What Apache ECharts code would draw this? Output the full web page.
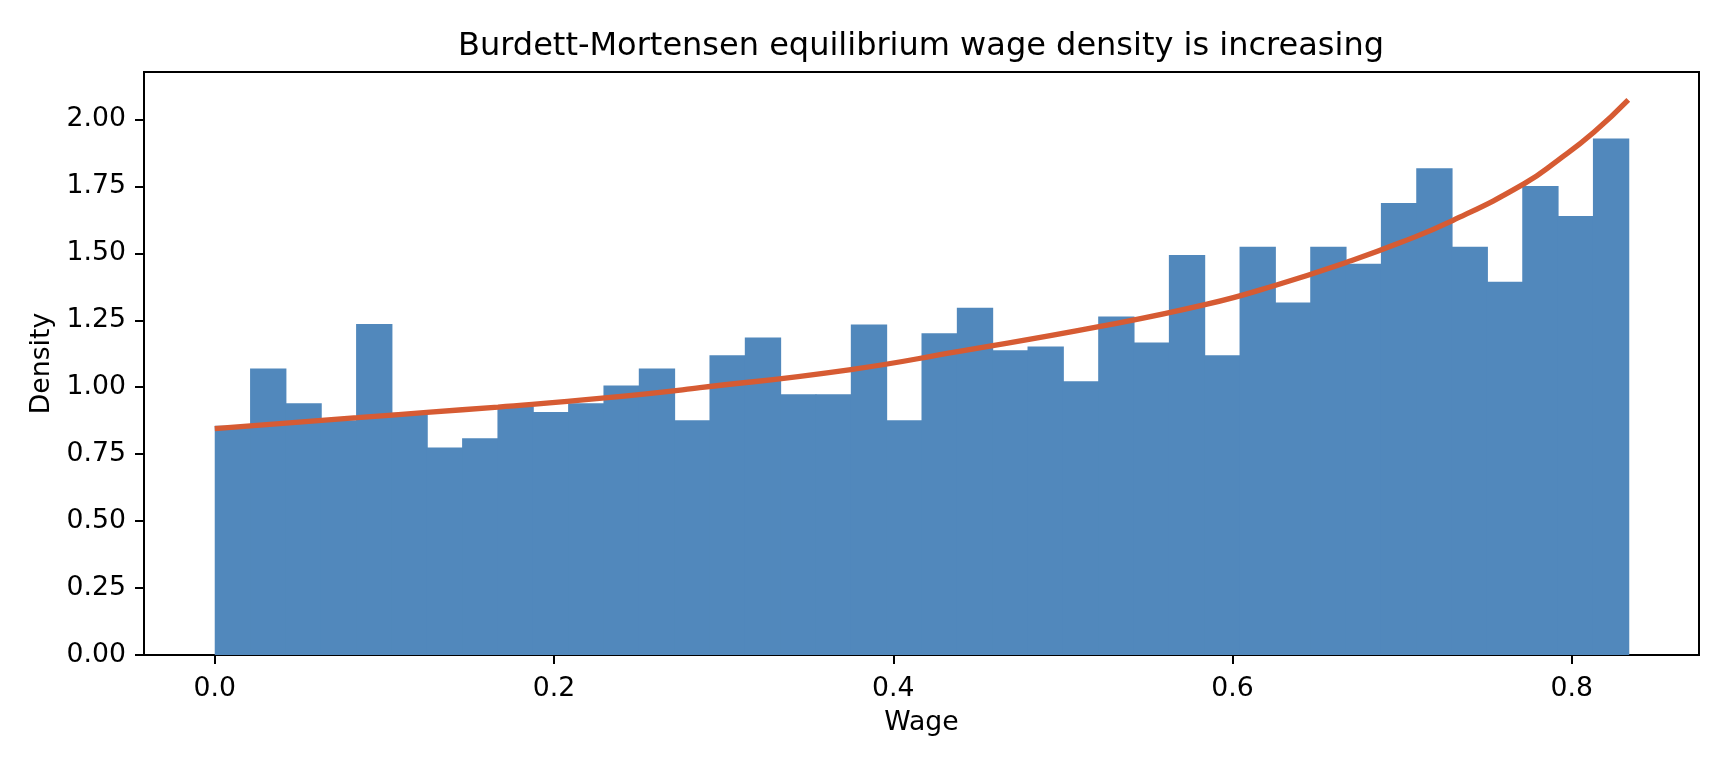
<!DOCTYPE html>
<html><head><meta charset="utf-8">
<script src="https://cdn.jsdelivr.net/npm/echarts@6/dist/echarts.min.js"></script>
<style>html,body{margin:0;padding:0;background:#fff}#c{width:1728px;height:768px}</style>
</head><body><div id="c"></div>
<script>
const titleText = 'Burdett-Mortensen equilibrium wage density is increasing';
const xLabel = 'Wage';
const yLabel = 'Density';
const wageMax = 0.8333;
const binCount = 40;
const histDensity = [0.856, 1.070, 0.940, 0.877, 1.236, 0.905, 0.775, 0.809, 0.928, 0.907,
  0.940, 1.006, 1.070, 0.877, 1.119, 1.186, 0.974, 0.974, 1.234, 0.877,
  1.201, 1.297, 1.138, 1.152, 1.022, 1.264, 1.167, 1.494, 1.119, 1.524,
  1.316, 1.524, 1.461, 1.688, 1.818, 1.524, 1.394, 1.751, 1.639, 1.929];
const curveWage = [0, 0.042, 0.084, 0.125, 0.167, 0.230, 0.286, 0.375, 0.438, 0.522, 0.585, 0.625, 0.667, 0.699, 0.730, 0.772, 0.792, 0.813, 0.8333];
const curveDensity = [0.845, 0.866, 0.886, 0.906, 0.926, 0.960, 0.998, 1.066, 1.133, 1.227, 1.310, 1.380, 1.466, 1.540, 1.623, 1.760, 1.848, 1.952, 2.073];
const xTicks = [0, 0.2, 0.4, 0.6, 0.8];
const yTicks = [0, 0.25, 0.5, 0.75, 1.0, 1.25, 1.5, 1.75, 2.0];

const binWidth = wageMax / binCount;
const histData = histDensity.map((d, i) => [i * binWidth, (i + 1) * binWidth, d]);
const curveData = curveWage.map((w, i) => [w, curveDensity[i]]);

const FONT = 'DejaVu Sans';
const chart = echarts.init(document.getElementById('c'), null, {renderer: 'canvas'});
chart.setOption({
  animation: false,
  backgroundColor: '#fff',
  grid: {left: 144, right: 29, top: 72, bottom: 113, show: true, borderColor: '#000', borderWidth: 2, backgroundColor: '#fff'},
  graphic: [{
    type: 'text', x: 921, y: 47, z: 10,
    style: {text: titleText, fill: '#000', font: '32px "' + FONT + '"', textAlign: 'center', textVerticalAlign: 'middle'}
  }],
  xAxis: {
    type: 'value', min: -0.0417, max: 0.875,
    name: xLabel, nameLocation: 'middle', nameGap: 55,
    nameTextStyle: {fontFamily: FONT, fontSize: 26.7, color: '#000'},
    splitLine: {show: false},
    axisLine: {show: true, onZero: false, lineStyle: {color: '#000', width: 2}},
    axisTick: {show: true, length: 9, lineStyle: {color: '#000', width: 2}, customValues: xTicks},
    axisLabel: {customValues: xTicks, margin: 21, fontFamily: FONT, fontSize: 26.7, color: '#000',
      formatter: v => v.toFixed(1)}
  },
  yAxis: {
    type: 'value', min: 0, max: 2.177,
    name: yLabel, nameLocation: 'middle', nameGap: 84,
    nameTextStyle: {fontFamily: FONT, fontSize: 26.7, color: '#000'},
    splitLine: {show: false},
    axisLine: {show: true, onZero: false, lineStyle: {color: '#000', width: 2}},
    axisTick: {show: true, length: 9, lineStyle: {color: '#000', width: 2}, customValues: yTicks},
    axisLabel: {customValues: yTicks, margin: 18, fontFamily: FONT, fontSize: 26.7, color: '#000',
      formatter: v => v.toFixed(2)}
  },
  series: [{
    type: 'custom',
    data: histData,
    z: 1,
    clip: true,
    renderItem: (params, api) => {
      const p0 = api.coord([api.value(0), api.value(2)]);
      const p1 = api.coord([api.value(1), 0]);
      return {
        type: 'rect',
        shape: {x: p0[0], y: p0[1], width: p1[0] - p0[0] + 1, height: p1[1] - p0[1] + 1},
        style: {fill: '#5188bc', stroke: null}
      };
    }
  }, {
    type: 'line',
    data: curveData,
    z: 3,
    smooth: 0.5,
    showSymbol: false,
    symbol: 'none',
    lineStyle: {color: '#d65b33', width: 5.3, cap: 'butt'}
  }]
});
</script>
</body></html>
